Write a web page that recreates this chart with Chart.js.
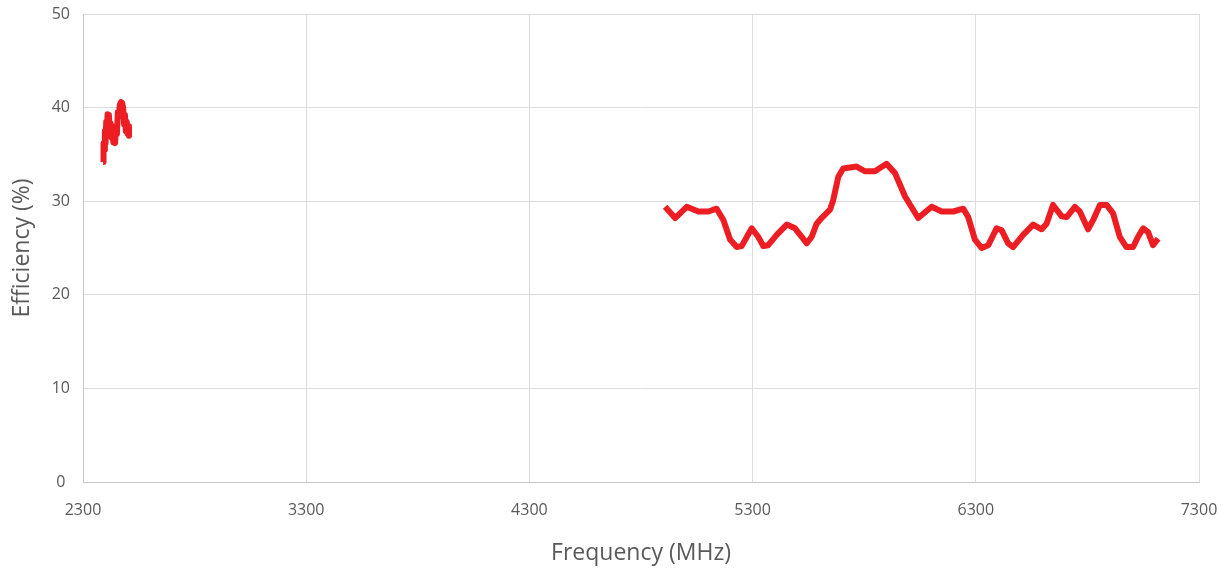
<!DOCTYPE html>
<html>
<head>
<meta charset="utf-8">
<script src="https://cdn.jsdelivr.net/npm/chart.js@4/dist/chart.umd.min.js"></script>
<style>
  html, body { margin: 0; padding: 0; background: #ffffff; }
  #wrap { width: 1230px; height: 571px; }
</style>
</head>
<body>
<div id="wrap"><canvas id="effChart" width="1230" height="571"></canvas></div>
<script>
// 2.4 GHz band
const lowFreq = [2390, 2392, 2395, 2398, 2401, 2404, 2407, 2410, 2413, 2416, 2420, 2424, 2428, 2432, 2436, 2440,
  2444, 2448, 2452, 2456, 2460, 2465, 2470, 2475, 2480, 2484, 2488, 2492, 2496, 2500, 2504, 2506];
const lowEff = [34.2, 36.2, 35.5, 37.5, 36.2, 38.5, 37.3, 39.3, 38.0, 39.2, 37.5, 38.3, 36.8, 37.8, 36.3, 37.6,
  36.2, 38.0, 37.2, 39.5, 39.0, 40.3, 40.6, 40.5, 40.0, 38.2, 39.2, 37.5, 38.5, 37.2, 38.0, 37.0];

// 5-7 GHz band
const highFreq = [4908, 4953, 5005, 5057, 5102, 5139, 5169, 5199, 5229, 5251, 5296, 5325, 5348, 5370, 5408, 5453,
  5490, 5520, 5542, 5565, 5587, 5609, 5647, 5661, 5684, 5706, 5766, 5803, 5848, 5900, 5938, 5983,
  6042, 6102, 6147, 6199, 6244, 6266, 6296, 6326, 6356, 6393, 6416, 6445, 6467, 6512, 6557, 6595,
  6617, 6646, 6684, 6707, 6744, 6766, 6803, 6826, 6856, 6886, 6915, 6945, 6975, 7005, 7027, 7050,
  7072, 7094, 7117];
const highEff = [29.4, 28.2, 29.4, 28.9, 28.9, 29.2, 28.0, 25.9, 25.1, 25.2, 27.1, 26.2, 25.2, 25.3, 26.4, 27.5,
  27.1, 26.2, 25.5, 26.2, 27.6, 28.2, 29.1, 30.1, 32.6, 33.5, 33.7, 33.2, 33.2, 34.0, 33.0, 30.5,
  28.2, 29.4, 28.9, 28.9, 29.2, 28.3, 25.9, 25.0, 25.3, 27.1, 26.9, 25.5, 25.1, 26.4, 27.5, 27.0,
  27.6, 29.6, 28.4, 28.3, 29.4, 28.9, 27.0, 28.0, 29.6, 29.6, 28.7, 26.2, 25.1, 25.1, 26.2, 27.1,
  26.7, 25.3, 26.0];

const xTicks = [2300, 3300, 4300, 5300, 6300, 7300];
const yTicks = [0, 10, 20, 30, 40, 50];

const lineRed = 'rgb(236, 30, 36)';
const textGrey = '#595959';

function toPoints(xs, ys) {
    return xs.map(function(x, i) { return { x: x, y: ys[i] }; });
}

const lineStyle = {
    borderColor: lineRed,
    backgroundColor: lineRed,
    borderWidth: 6,
    pointRadius: 0,
    tension: 0,
    borderJoinStyle: 'round',
    borderCapStyle: 'butt',
    fill: false
};

new Chart(document.getElementById('effChart'), {
    type: 'line',
    data: {
        datasets: [
            { label: '2.4 GHz', data: toPoints(lowFreq, lowEff), ...lineStyle },
            { label: '5-7 GHz', data: toPoints(highFreq, highEff), ...lineStyle }
        ]
    },
    options: {
        responsive: false,
        animation: false,
        layout: {
            padding: { left: 0, right: 31, top: 14, bottom: 0 }
        },
        plugins: {
            legend: { display: false },
            tooltip: { enabled: false }
        },
        scales: {
            x: {
                type: 'linear',
                min: xTicks[0],
                max: xTicks[xTicks.length - 1],
                afterBuildTicks: function(scale) {
                    scale.ticks = xTicks.map(function(v) { return { value: v }; });
                },
                afterFit: function(scale) {
                    // keep the plot edges where the reference has them
                    scale.height = 89;
                    scale.paddingLeft = 0;
                    scale.paddingRight = 0;
                },
                grid: { color: '#dcdcdc', lineWidth: 1, drawTicks: false },
                border: { color: '#c6c6c6', width: 1 },
                ticks: {
                    color: textGrey,
                    font: { family: 'Open Sans', size: 16 },
                    padding: 19,
                    maxRotation: 0,
                    callback: function(value) { return String(value); }
                },
                title: {
                    display: true,
                    text: 'Frequency (MHz)',
                    color: textGrey,
                    font: { family: 'Open Sans', size: 23 },
                    padding: { top: 4, bottom: 4 }
                }
            },
            y: {
                min: yTicks[0],
                max: yTicks[yTicks.length - 1],
                afterBuildTicks: function(scale) {
                    scale.ticks = yTicks.map(function(v) { return { value: v }; });
                },
                afterFit: function(scale) {
                    scale.width = 83;
                    scale.paddingTop = 0;
                    scale.paddingBottom = 0;
                },
                grid: { color: '#dcdcdc', lineWidth: 1, drawTicks: false },
                border: { color: '#c6c6c6', width: 1 },
                ticks: {
                    color: textGrey,
                    font: { family: 'Open Sans', size: 16 },
                    padding: 13,
                    crossAlign: 'center',
                    callback: function(value) { return String(value); }
                },
                title: {
                    display: true,
                    text: 'Efficiency (%)',
                    color: textGrey,
                    font: { family: 'Open Sans', size: 23 },
                    padding: { top: 9, bottom: 0 }
                }
            }
        }
    }
});
</script>
</body>
</html>
